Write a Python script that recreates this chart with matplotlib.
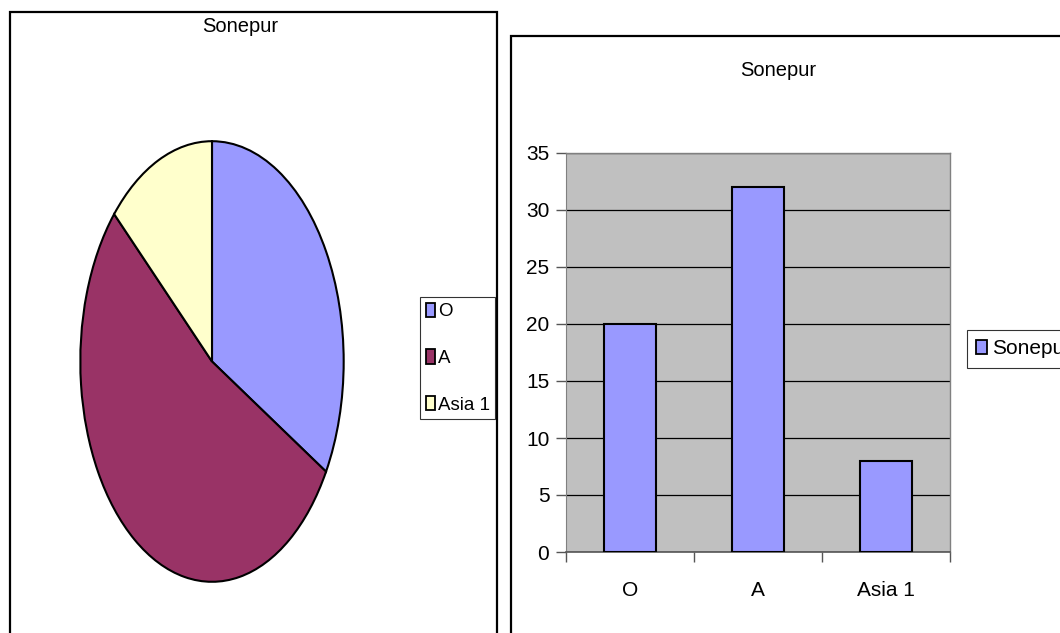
import matplotlib
matplotlib.use("Agg")
import matplotlib.pyplot as plt
from matplotlib.patches import Rectangle, Patch

plt.rcParams['font.family'] = ['Liberation Sans', 'DejaVu Sans']

title = "Sonepur"
categories = ["O", "A", "Asia 1"]
values = [20, 32, 8]
pie_colors = ["#9999FF", "#993366", "#FFFFCC"]
bar_color = "#9999FF"
y_ticks = [0, 5, 10, 15, 20, 25, 30, 35]

W, H = 1060, 633
fig = plt.figure(figsize=(W / 100, H / 100), dpi=100)


def fx(px):
    return px / W


def fy(py):
    return 1 - py / H


def box(x0, y0, x1, y1):
    return [fx(x0), fy(y1), fx(x1) - fx(x0), fy(y0) - fy(y1)]


# panel frames
for (x0, y0, x1, y1) in [(10, 12, 497, 640), (511, 36, 1065, 640)]:
    fig.add_artist(Rectangle((fx(x0), fy(y1)), fx(x1) - fx(x0), fy(y0) - fy(y1),
                             transform=fig.transFigure, fill=False,
                             edgecolor="black", linewidth=1.6, clip_on=False))

FS_TITLE = 14.5
FS_TICK = 15
FS_LEG = 13.5

# ---- pie panel ----
fig.text(fx(240), fy(27), title, ha="center", va="center", fontsize=FS_TITLE)
ax_pie = fig.add_axes(box(79, 139, 345, 584))
ax_pie.pie(values, colors=pie_colors, startangle=90, counterclock=False,
           wedgeprops=dict(edgecolor="black", linewidth=1.5))
ax_pie.set_aspect("auto")
ax_pie.set_xlim(-1.01, 1.01)
ax_pie.set_ylim(-1.01, 1.01)
ax_pie.axis("off")

pie_handles = [Patch(facecolor=c, edgecolor="black", linewidth=1.3) for c in pie_colors]
leg1 = fig.legend(pie_handles, categories, loc="upper left",
                  bbox_to_anchor=(fx(420), fy(297)), fontsize=FS_LEG,
                  frameon=True, fancybox=False, edgecolor="black",
                  handlelength=0.5, handleheight=0.8, handletextpad=0.15,
                  labelspacing=1.55, borderpad=0.5, borderaxespad=0,
                  columnspacing=0)
leg1.get_frame().set_linewidth(0.8)
leg1._legend_box.pad = 4

# ---- bar panel ----
fig.text(fx(778), fy(70), title, ha="center", va="center", fontsize=FS_TITLE)
ax = fig.add_axes(box(566, 153, 950, 552))
x = list(range(len(categories)))
ax.bar(x, values, width=0.4, color=bar_color, edgecolor="black", linewidth=1.5,
       zorder=3, label=title)
ax.set_facecolor("#C0C0C0")
ax.set_xlim(-0.5, len(categories) - 0.5)
ax.set_ylim(0, 35)
ax.set_yticks(y_ticks)
ax.yaxis.grid(True, color="black", linewidth=0.9, zorder=1)
ax.set_axisbelow(True)
ax.set_xticks([i - 0.5 for i in range(len(categories) + 1)])
ax.set_xticklabels([])
ax.set_xticks(x, minor=True)
ax.set_xticklabels(categories, minor=True)
ax.tick_params(axis="x", which="minor", length=0, pad=21, labelsize=FS_TICK)
ax.tick_params(axis="x", which="major", length=7, width=1, color="#555555")
ax.tick_params(axis="y", length=7, width=1, color="#555555", pad=5, labelsize=FS_TICK)
for side in ["top", "right"]:
    ax.spines[side].set_color("#808080")
    ax.spines[side].set_linewidth(1)
ax.spines["left"].set_color("#808080")
ax.spines["bottom"].set_color("#555555")
ax.spines["bottom"].set_linewidth(1.2)

leg2 = fig.legend([Patch(facecolor=bar_color, edgecolor="black", linewidth=1.3)],
                  [title], loc="upper left", bbox_to_anchor=(fx(967), fy(330)),
                  fontsize=FS_TICK, frameon=True, fancybox=False, edgecolor="black",
                  handlelength=0.5, handleheight=0.7, handletextpad=0.25,
                  borderpad=0.45, borderaxespad=0)
leg2.get_frame().set_linewidth(0.8)

fig.savefig("out.png", dpi=100)
